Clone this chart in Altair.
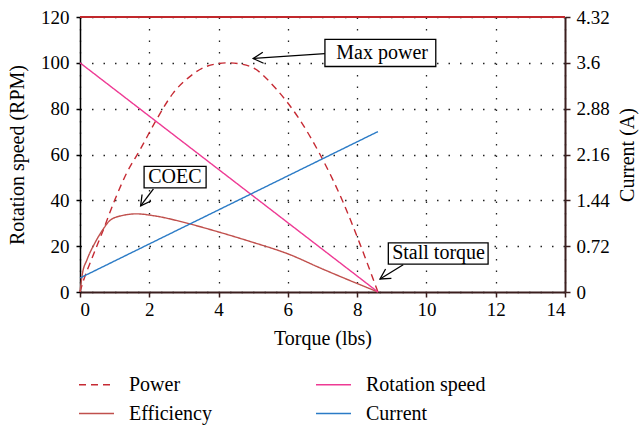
import altair as alt
import pandas as pd

FONT = "Liberation Serif"
BROWN = "#3b1e1e"

# Motor characteristic curves against torque (lbs)
power_torque = [0, 0.1, 0.34, 0.67, 1.0, 1.35, 1.73, 2.2, 2.7, 3.17, 3.66, 4.25,
                4.7, 5.0, 5.68, 6.35, 6.93, 7.6, 8.08, 8.6]
power_values = [0, 5, 14.5, 27, 40, 52, 62, 75, 87, 94, 98.5, 100,
                99.3, 97.8, 88.3, 75, 60, 39, 21, 0]

eff_torque = [0, 0.07, 0.2, 0.43, 0.65, 0.87, 1.2, 1.64, 2.12, 3.17, 4.0, 4.9,
              6.06, 6.93, 8.6]
eff_values = [0, 8, 14, 21.4, 27, 31.3, 33.3, 34.1, 33.3, 29.7, 26.2, 22.1,
              16.3, 10.5, 0]

speed_torque = [0, 8.6]
speed_values = [100, 0]

current_torque = [0, 8.6]
current_values = [0.22, 2.52]

# Legend is filled column by column: Power/Efficiency, then Rotation speed/Current
series_order = ["Power", "Efficiency", "Rotation speed", "Current"]
series_colors = ["#c62a33", "#c0504d", "#ee3a94", "#2b7bc6"]
series_dash = [[7, 5], [1, 0], [1, 0], [1, 0]]

# Callouts: label, box corners and arrow ends (data units)
note_text = ["Max power", "COEC", "Stall torque"]
note_x = [8.72, 2.74, 10.35]
note_y = [104.5, 50.4, 17.0]
box_x = [7.07, 1.85, 8.9]
box_x2 = [10.27, 3.64, 11.78]
box_y = [98.4, 45.4, 12.2]
box_y2 = [110.2, 54.8, 21.4]
arrow_from_x = [7.07, 2.12, 9.33]
arrow_from_y = [104.0, 45.0, 11.9]
arrow_to_x = [5.0, 1.75, 8.66]
arrow_to_y = [101.9, 37.6, 5.7]
arrow_angle = [356, 306, 328]

left_df = pd.concat([
    pd.DataFrame({"series": "Power", "torque": power_torque, "value": power_values}),
    pd.DataFrame({"series": "Efficiency", "torque": eff_torque, "value": eff_values}),
    pd.DataFrame({"series": "Rotation speed", "torque": speed_torque, "value": speed_values}),
], ignore_index=True)
current_df = pd.DataFrame({"series": "Current", "torque": current_torque,
                           "value": current_values})
notes_df = pd.DataFrame({
    "text": note_text, "tx": note_x, "ty": note_y,
    "bx": box_x, "bx2": box_x2, "by": box_y, "by2": box_y2,
    "ax": arrow_from_x, "ay": arrow_from_y, "hx": arrow_to_x, "hy": arrow_to_y,
    "angle": arrow_angle,
})

x_scale = alt.Scale(domain=[0, 14], nice=False)
y_scale = alt.Scale(domain=[0, 120], nice=False)
y2_scale = alt.Scale(domain=[0, 4.32], nice=False)

color_scale = alt.Scale(domain=series_order, range=series_colors)
dash_scale = alt.Scale(domain=series_order, range=series_dash)

legend = alt.Legend(
    title=None, orient="none", legendX=-2, legendY=349, columns=2,
    symbolType="stroke", symbolSize=1225, symbolStrokeWidth=1.5,
    labelFont=FONT, labelFontSize=20, labelColor="black", labelOffset=14,
    labelLimit=300, rowPadding=-7, columnPadding=101, padding=0,
)

tick_style = dict(labelFont=FONT, labelFontSize=19, labelColor="black",
                  titleFont=FONT, titleFontSize=20, titleFontWeight="normal",
                  titleColor="black")

x_axis = alt.Axis(
    values=list(range(0, 15, 2)), title="Torque (lbs)", grid=True,
    gridDash=[1.5, 10], gridColor="#222222", gridWidth=1.3,
    domainColor=BROWN, domainWidth=2.2, tickColor=BROWN, tickWidth=1.5,
    tickSize=5, labelPadding=3, titlePadding=9, **tick_style,
)
y_axis = alt.Axis(
    values=list(range(0, 121, 20)), title="Rotation speed (RPM)", grid=True,
    gridDash=[1.5, 10], gridColor="#222222", gridWidth=1.3,
    domainColor="black", domainWidth=1.5, tickColor="black", tickWidth=1.5,
    tickSize=4, labelPadding=7, titlePadding=13, **tick_style,
)
y2_axis = alt.Axis(
    values=[0, 0.72, 1.44, 2.16, 2.88, 3.6, 4.32], format=".2~f",
    title="Current (A)", orient="right", grid=False, titleAngle=270,
    domainColor=BROWN, domainWidth=2, tickColor=BROWN, tickWidth=1.5,
    tickSize=5, labelPadding=6, titlePadding=28, **tick_style,
)

curves = alt.Chart(left_df).mark_line(strokeWidth=1.4, interpolate="monotone").encode(
    x=alt.X("torque:Q", scale=x_scale, axis=x_axis),
    y=alt.Y("value:Q", scale=y_scale, axis=y_axis),
    color=alt.Color("series:N", scale=color_scale, legend=legend, sort=series_order),
    strokeDash=alt.StrokeDash("series:N", scale=dash_scale, legend=legend,
                              sort=series_order),
    detail="series:N",
)

top_line = alt.Chart(left_df).mark_rule(color="#c0282d", strokeWidth=1.5).encode(
    y=alt.datum(120)
)

notes = alt.Chart(notes_df)
arrow_lines = notes.mark_rule(color="black", strokeWidth=1.3).encode(
    x=alt.X("ax:Q", scale=x_scale), y=alt.Y("ay:Q", scale=y_scale),
    x2="hx:Q", y2="hy:Q",
)
arrow_heads = notes.mark_point(
    shape="M 2 -1.1 L 0 0 L 2 1.1", filled=False, size=100,
    color="black", strokeWidth=1.3, opacity=1,
).encode(
    x=alt.X("hx:Q", scale=x_scale), y=alt.Y("hy:Q", scale=y_scale),
    angle=alt.Angle("angle:Q", scale=None),
)
boxes = notes.mark_rect(fill="white", stroke="black", strokeWidth=1.3).encode(
    x=alt.X("bx:Q", scale=x_scale), x2="bx2:Q",
    y=alt.Y("by:Q", scale=y_scale), y2="by2:Q",
)
labels = notes.mark_text(font=FONT, fontSize=20, color="black",
                         baseline="middle", align="center").encode(
    x=alt.X("tx:Q", scale=x_scale), y=alt.Y("ty:Q", scale=y_scale),
    text="text:N",
)

left_layer = alt.layer(curves, top_line, arrow_lines, arrow_heads, boxes, labels)

current_line = alt.Chart(current_df).mark_line(strokeWidth=1.4).encode(
    x=alt.X("torque:Q", scale=x_scale),
    y=alt.Y("value:Q", scale=y2_scale, axis=y2_axis),
    color=alt.Color("series:N", scale=color_scale, legend=legend, sort=series_order),
    strokeDash=alt.StrokeDash("series:N", scale=dash_scale, legend=legend,
                              sort=series_order),
)

chart = alt.layer(left_layer, current_line).resolve_scale(
    y="independent"
).properties(
    width=485, height=275,
    background="white",
    autosize=alt.AutoSizeParams(type="none"),
    padding={"left": 80, "top": 17, "right": 74, "bottom": 134},
).configure_view(
    stroke=None
)

chart.save("out.html", embed_options={"renderer": "svg", "actions": False})
